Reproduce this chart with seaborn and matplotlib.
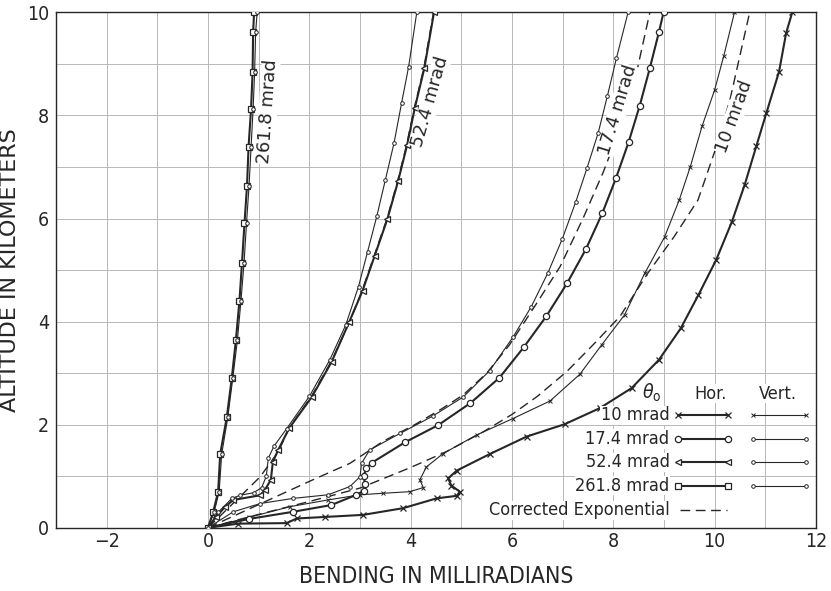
import matplotlib
matplotlib.use("Agg")
import matplotlib.pyplot as plt
import seaborn as sns
import pandas as pd

# ---- bending (mrad) vs altitude (km) -------------------------------------
# theta0 = 261.8 mrad
hor_2618_x = [0, 0.10, 0.20, 0.24, 0.37, 0.47, 0.55, 0.62, 0.67, 0.72, 0.77, 0.80, 0.85, 0.88, 0.89, 0.91]
hor_2618_y = [0, 0.30, 0.70, 1.43, 2.14, 2.91, 3.64, 4.40, 5.13, 5.91, 6.64, 7.39, 8.13, 8.85, 9.62, 10.0]
ver_2618_x = [0, 0.12, 0.22, 0.27, 0.39, 0.49, 0.58, 0.65, 0.71, 0.76, 0.81, 0.85, 0.89, 0.92, 0.94, 0.97]
ver_2618_y = [0, 0.30, 0.70, 1.43, 2.14, 2.91, 3.64, 4.40, 5.13, 5.91, 6.64, 7.39, 8.13, 8.85, 9.62, 10.0]

# theta0 = 52.4 mrad
hor_524_x = [0, 0.15, 0.34, 0.50, 1.03, 1.12, 1.24, 1.28, 1.38, 1.60, 2.05, 2.44, 2.79, 3.05, 3.29, 3.54, 3.75, 3.93, 4.08, 4.27, 4.46]
hor_524_y = [0, 0.20, 0.41, 0.54, 0.63, 0.73, 0.93, 1.28, 1.50, 1.93, 2.54, 3.22, 4.00, 4.60, 5.28, 5.99, 6.72, 7.43, 8.14, 8.92, 10.0]
ver_524_x = [0, 0.20, 0.47, 0.63, 0.90, 1.06, 1.15, 1.19, 1.30, 1.55, 2.00, 2.40, 2.72, 2.97, 3.15, 3.33, 3.50, 3.67, 3.82, 3.96, 4.12]
ver_524_y = [0, 0.30, 0.57, 0.63, 0.68, 0.78, 1.00, 1.35, 1.58, 1.92, 2.55, 3.25, 3.94, 4.68, 5.36, 6.04, 6.75, 7.46, 8.24, 8.95, 10.0]
exp_524_x = [0, 0.70, 1.03, 1.39, 1.60, 2.04, 2.44, 2.78, 3.04, 3.28, 3.53, 3.74, 3.92, 4.07, 4.26, 4.45]
exp_524_y = [0, 0.67, 0.99, 1.48, 1.93, 2.55, 3.24, 3.97, 4.60, 5.28, 5.99, 6.72, 7.43, 8.14, 8.92, 10.0]

# theta0 = 17.4 mrad
hor_174_x = [0, 0.80, 1.68, 2.43, 2.93, 3.08, 3.10, 3.07, 3.12, 3.23, 3.89, 4.54, 5.18, 5.75, 6.23, 6.68, 7.09, 7.46, 7.78, 8.05, 8.30, 8.52, 8.72, 8.90, 8.99]
hor_174_y = [0, 0.17, 0.31, 0.44, 0.64, 0.72, 0.85, 1.00, 1.15, 1.26, 1.66, 1.99, 2.42, 2.91, 3.50, 4.11, 4.75, 5.41, 6.10, 6.78, 7.48, 8.19, 8.92, 9.62, 10.0]
ver_174_x = [0, 0.50, 1.03, 1.68, 2.37, 2.80, 3.00, 3.03, 3.19, 3.79, 4.44, 5.04, 5.56, 6.02, 6.38, 6.71, 6.99, 7.26, 7.48, 7.70, 7.88, 8.06, 8.29]
ver_174_y = [0, 0.31, 0.47, 0.57, 0.64, 0.80, 0.99, 1.25, 1.51, 1.83, 2.17, 2.54, 3.05, 3.70, 4.29, 4.95, 5.60, 6.33, 6.98, 7.66, 8.37, 9.11, 10.0]
exp_174_x = [0, 1.00, 2.00, 2.80, 3.46, 4.08, 4.60, 5.04, 5.50, 5.95, 6.45, 6.95, 7.40, 7.80, 8.15, 8.45, 8.72]
exp_174_y = [0, 0.45, 0.90, 1.25, 1.68, 2.00, 2.30, 2.58, 3.00, 3.55, 4.30, 5.07, 6.00, 6.90, 7.80, 8.80, 10.0]

# theta0 = 10 mrad
hor_10_x = [0, 0.60, 1.55, 1.75, 2.31, 3.06, 3.85, 4.51, 4.91, 4.97, 4.80, 4.74, 4.91, 5.56, 6.29, 7.04, 7.73, 8.36, 8.90, 9.33, 9.68, 10.03, 10.34, 10.59, 10.82, 11.02, 11.27, 11.41, 11.53]
hor_10_y = [0, 0.08, 0.09, 0.18, 0.21, 0.25, 0.38, 0.57, 0.62, 0.70, 0.82, 0.96, 1.11, 1.43, 1.77, 2.01, 2.32, 2.71, 3.26, 3.87, 4.52, 5.20, 5.94, 6.65, 7.40, 8.05, 8.85, 9.60, 10.0]
ver_10_x = [0, 0.80, 1.62, 2.37, 3.00, 3.46, 3.98, 4.25, 4.18, 4.31, 4.64, 5.30, 6.02, 6.75, 7.34, 7.77, 8.22, 8.62, 9.01, 9.30, 9.52, 9.75, 10.00, 10.18, 10.39]
ver_10_y = [0, 0.20, 0.41, 0.54, 0.64, 0.67, 0.70, 0.78, 0.93, 1.18, 1.44, 1.80, 2.12, 2.46, 2.98, 3.55, 4.13, 4.94, 5.64, 6.36, 7.01, 7.79, 8.50, 9.16, 10.0]
exp_10_x = [0, 1.00, 2.00, 3.00, 4.00, 4.71, 5.43, 6.00, 6.50, 7.08, 7.60, 8.13, 8.68, 9.20, 9.67, 10.00, 10.30, 10.69]
exp_10_y = [0, 0.26, 0.51, 0.77, 1.17, 1.48, 1.86, 2.20, 2.55, 3.03, 3.55, 4.10, 4.94, 5.65, 6.36, 7.30, 8.30, 10.0]

angle_labels = ["10 mrad", "17.4 mrad", "52.4 mrad", "261.8 mrad"]
x_ticks = [-2, 0, 2, 4, 6, 8, 10, 12]
y_ticks = [0, 2, 4, 6, 8, 10]

sns.set_theme(style="white")
plt.rcParams["font.family"] = ["DejaVu Sans"]
plt.rcParams["font.stretch"] = "condensed"

INK = "#262626"
fig = plt.figure(figsize=(8.31, 5.91), dpi=100)
ax = fig.add_axes([0.0674, 0.107, 0.9146, 0.872])

# grid every unit
for gx in range(-3, 13):
    ax.axvline(gx, color="#b8b8b8", lw=0.7, zorder=0)
for gy in range(0, 11):
    ax.axhline(gy, color="#b8b8b8", lw=0.7, zorder=0)

hor_style = dict(color=INK, lw=1.5, markersize=4.5, markerfacecolor="white",
                 markeredgecolor=INK, markeredgewidth=0.9)
ver_style = dict(color=INK, lw=0.8, markersize=2.6, markerfacecolor="white",
                 markeredgecolor=INK, markeredgewidth=0.7)
exp_style = dict(color=INK, lw=1.0, dashes=(7, 4))

series = [
    (hor_10_x, hor_10_y, "x", hor_style),
    (ver_10_x, ver_10_y, "x", ver_style),
    (hor_174_x, hor_174_y, "o", hor_style),
    (ver_174_x, ver_174_y, "o", ver_style),
    (hor_524_x, hor_524_y, "<", hor_style),
    (ver_524_x, ver_524_y, "o", ver_style),
    (hor_2618_x, hor_2618_y, "s", hor_style),
    (ver_2618_x, ver_2618_y, "o", ver_style),
]
for xs, ys, mk, st in series:
    df = pd.DataFrame({"x": xs, "y": ys})
    sns.lineplot(data=df, x="x", y="y", sort=False, estimator=None, ax=ax,
                 marker=mk, legend=False, zorder=3, **st)

for xs, ys in [(exp_10_x, exp_10_y), (exp_174_x, exp_174_y), (exp_524_x, exp_524_y)]:
    df = pd.DataFrame({"x": xs, "y": ys})
    sns.lineplot(data=df, x="x", y="y", sort=False, estimator=None, ax=ax,
                 legend=False, zorder=2, **exp_style)

# curve labels
label_pos = [(10.38, 7.97, 70), (8.09, 8.10, 73), (4.38, 8.26, 74), (1.18, 8.07, 86)]
for (lx, ly, rot), txt in zip(label_pos, angle_labels):
    ax.text(lx, ly, txt, rotation=rot, ha="center", va="center", fontsize=13,
            fontstretch="normal", color=INK, zorder=4,
            bbox=dict(facecolor="white", edgecolor="none", pad=0.3))

# table-style key
T = ax.transAxes
def fx(v):
    return (v + 3) / 15.0
def fy(v):
    return v / 10.0

ax.text(fx(8.75), fy(2.62), r"$\theta_{\rm o}$", transform=T, ha="center",
        va="center", fontsize=14, color=INK,
        bbox=dict(facecolor="white", edgecolor="none", pad=0.5))
ax.text(fx(9.92), fy(2.60), "Hor.", transform=T, ha="center", va="center",
        fontsize=13, color=INK, bbox=dict(facecolor="white", edgecolor="none", pad=0.5))
ax.text(fx(11.25), fy(2.60), "Vert.", transform=T, ha="center", va="center",
        fontsize=13, color=INK, bbox=dict(facecolor="white", edgecolor="none", pad=0.5))

key_rows = [2.18, 1.72, 1.27, 0.82]
key_marks = [("x", "x"), ("o", "o"), ("<", "o"), ("s", "o")]
for ry, txt, (mh, mv) in zip(key_rows, angle_labels, key_marks):
    ax.text(fx(9.11), fy(ry), txt, transform=T, ha="right", va="center",
            fontsize=13, color=INK,
            bbox=dict(facecolor="white", edgecolor="none", pad=0.5))
    ax.plot([fx(9.27), fx(10.26)], [fy(ry), fy(ry)], transform=T, marker=mh,
            zorder=5, **hor_style)
    ax.plot([fx(10.75), fx(11.81)], [fy(ry), fy(ry)], transform=T, marker=mv,
            zorder=5, **ver_style)
ax.text(fx(9.11), fy(0.34), "Corrected Exponential", transform=T, ha="right",
        va="center", fontsize=13, color=INK,
        bbox=dict(facecolor="white", edgecolor="none", pad=0.5))
ax.plot([fx(9.31), fx(10.24)], [fy(0.34), fy(0.34)], transform=T, zorder=5, **exp_style)

ax.set_xlim(-3, 12)
ax.set_ylim(0, 10)
ax.set_xticks(x_ticks)
ax.set_yticks(y_ticks)
ax.tick_params(length=0, labelsize=14, colors=INK)
ax.tick_params(axis="x", pad=3)
ax.tick_params(axis="y", pad=5)
ax.set_xlabel("BENDING IN MILLIRADIANS", fontsize=16.5, color=INK, labelpad=10)
ax.set_ylabel("ALTITUDE IN KILOMETERS", fontsize=16, fontstretch="normal",
              color=INK, labelpad=5)
for sp in ax.spines.values():
    sp.set_color(INK)
    sp.set_linewidth(1.0)

fig.savefig("out.png", dpi=100, facecolor="white")
